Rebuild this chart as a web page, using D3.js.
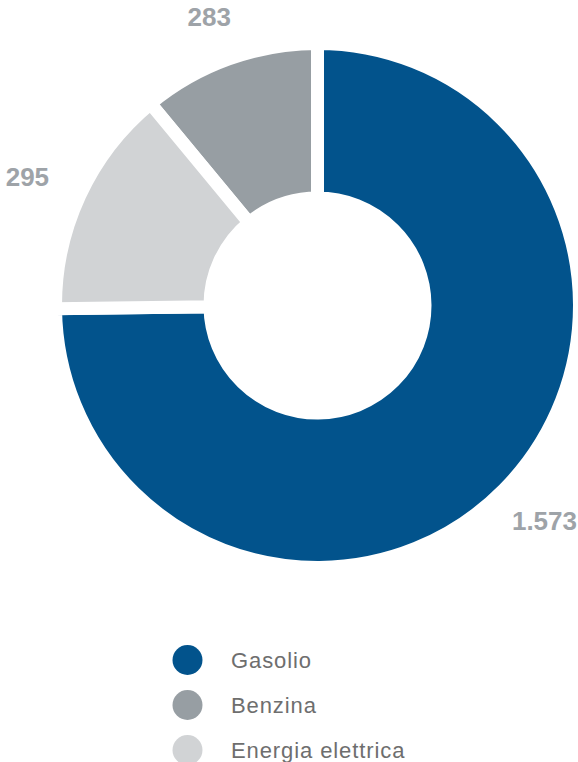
<!DOCTYPE html>
<html>
<head>
<meta charset="utf-8">
<script src="https://cdn.jsdelivr.net/npm/d3@7"></script>
<style>
  body { margin: 0; background: #fff; }
  svg { display: block; font-family: "Liberation Sans", Arial, sans-serif; }
</style>
</head>
<body>
<svg class="chart"></svg>
<script>
// legend order
const categories = ["Gasolio", "Benzina", "Energia elettrica"];
// printed values
const labels = ["1.573", "283", "295"];
// slice sizes as they appear in the picture (% of the ring)
const shares = [74.8, 11.0, 14.2];
// clockwise drawing order from 12 o'clock
const drawOrder = ["Gasolio", "Energia elettrica", "Benzina"];
const colors = ["#02538c", "#979ea3", "#d1d3d5"];

const width = 578;
const height = 762;
const cx = 317.5, cy = 305.5;
const outer = 262, inner = 107.5;
const gap = 13;

const data = categories.map((c, i) => ({name: c, share: shares[i], label: labels[i]}));

const color = d3.scaleOrdinal()
    .domain(categories)
    .range(colors);

const pie = d3.pie()
    .value(d => d.share)
    .sort((a, b) => drawOrder.indexOf(a.name) - drawOrder.indexOf(b.name));

const arc = d3.arc()
    .innerRadius(inner)
    .outerRadius(outer);

const svg = d3.select(".chart")
    .attr("width", width)
    .attr("height", height);

const g = svg.append("g")
    .attr("transform", `translate(${cx}, ${cy})`);

const arcs = pie(data);

g.selectAll("path")
    .data(arcs)
    .enter().append("path")
    .attr("d", arc)
    .attr("fill", d => color(d.data.name))
    .attr("stroke", "#fff")
    .attr("stroke-width", gap);

// value labels, pushed out along the slice middle so the box clears the ring
const labelR = 298;
g.selectAll(".val")
    .data(arcs)
    .enter().append("text")
    .attr("class", "val")
    .attr("text-anchor", "middle")
    .attr("dy", "0.35em")
    .attr("fill", "#9ea3a8")
    .attr("font-size", 26)
    .attr("font-weight", "bold")
    .text(d => d.data.label)
    .each(function(d) {
        const a = (d.startAngle + d.endAngle) / 2;
        const w = this.getComputedTextLength();
        const dx = Math.sin(a), dy = -Math.cos(a);
        let x = dx * labelR + dx * w / 2;
        const y = dy * labelR + dy * 9;
        // keep the text inside the page
        x = Math.min(x, width - cx - w / 2 - 1);
        x = Math.max(x, -cx + w / 2 + 1);
        d3.select(this).attr("x", x).attr("y", y);
    });

// legend
const legend = svg.append("g")
    .attr("transform", "translate(187.5, 660)");

const item = legend.selectAll("g")
    .data(categories)
    .enter().append("g")
    .attr("transform", (d, i) => `translate(0, ${i * 45})`);

item.append("circle")
    .attr("r", 15)
    .attr("fill", d => color(d));

item.append("text")
    .attr("x", 43.5)
    .attr("dy", "0.35em")
    .attr("font-size", 22)
    .attr("letter-spacing", "0.9px")
    .attr("fill", "#6e6e6e")
    .text(d => d);
</script>
</body>
</html>
